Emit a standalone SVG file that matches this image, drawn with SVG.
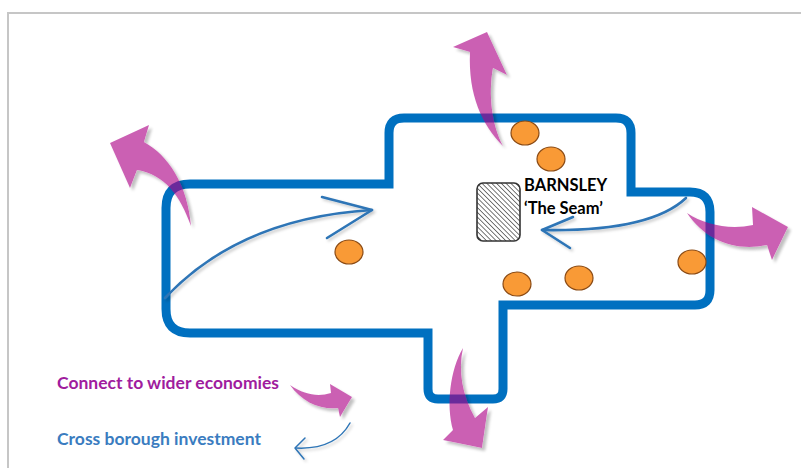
<svg xmlns="http://www.w3.org/2000/svg" width="801" height="468" viewBox="0 0 801 468">
<style>
.frame{fill:none;stroke:#c6c6c6;stroke-width:2}
.region{fill:none;stroke:#0070c0;stroke-width:9;stroke-linejoin:miter}
.site{fill:#f99a36;stroke:#8a4a14;stroke-width:1.2}
.inv{fill:none;stroke:#2e75b6;stroke-width:2.6;stroke-linecap:round;stroke-linejoin:round}
.inv-thin{fill:none;stroke:#2e75b6;stroke-width:1.5;stroke-linecap:round;stroke-linejoin:round}
.eco{fill:#ac0686;opacity:0.62}
.lbl{font-family:Lato,"Open Sans","Liberation Sans",sans-serif;font-weight:bold;font-size:16.5px}
.leg{font-family:Lato,"Open Sans","Liberation Sans",sans-serif;font-weight:bold;font-size:17.5px}
</style>
<defs>
<pattern id="hatch" patternUnits="userSpaceOnUse" width="3.4" height="3.4" patternTransform="rotate(-45)">
<rect width="3.4" height="3.4" fill="#ffffff"/>
<line x1="0" y1="0" x2="0" y2="3.4" stroke="#4a4a4a" stroke-width="1.5"/>
</pattern>
<filter id="sh" x="-20%" y="-20%" width="150%" height="150%">
<feDropShadow dx="2" dy="2" stdDeviation="1.6" flood-color="#000" flood-opacity="0.22"/>
</filter>
<filter id="shp" x="-20%" y="-20%" width="150%" height="150%">
<feGaussianBlur in="SourceAlpha" stdDeviation="1.8" result="b"/>
<feOffset in="b" dx="2.5" dy="2.5" result="o"/>
<feComposite in="o" in2="SourceAlpha" operator="out" result="s"/>
<feColorMatrix in="s" type="matrix" values="0 0 0 0 0  0 0 0 0 0  0 0 0 0 0  0 0 0 0.4 0" result="sc"/>
<feMerge><feMergeNode in="sc"/><feMergeNode in="SourceGraphic"/></feMerge>
</filter>
</defs>
<rect width="801" height="468" fill="#ffffff"/>
<path class="frame" d="M8 468 V13 H801"/>

<g id="region">
<path class="region" d="M190 184 H389 V133 Q389 118 404 118 H616 Q631 118 631 133 V192 H690 Q710 192 710 212 V290 Q710 305 695 305 H503 V389 Q503 399 493 399 H438 Q428 399 428 389 V333 H190 Q166 333 166 309 V208 Q166 184 190 184 Z"/>
</g>

<g id="sites">
<ellipse id="site1" class="site" cx="525" cy="133" rx="14" ry="12"/>
<ellipse id="site2" class="site" cx="551" cy="159" rx="14" ry="12"/>
<ellipse id="site3" class="site" cx="349" cy="252" rx="14" ry="12"/>
<ellipse id="site4" class="site" cx="517" cy="284" rx="14" ry="12"/>
<ellipse id="site5" class="site" cx="579" cy="278" rx="14" ry="12"/>
<ellipse id="site6" class="site" cx="692" cy="262" rx="14" ry="12"/>
</g>

<g id="barnsley">
<rect x="477" y="183" width="43" height="58" rx="6" fill="url(#hatch)" stroke="#333333" stroke-width="1.6"/>
<text class="lbl" x="524" y="191" fill="#000000">BARNSLEY</text>
<text class="lbl" x="524" y="214" fill="#000000">‘The Seam’</text>
</g>

<g id="legend-economies">
<text class="leg" x="57" y="389" fill="#a01c9e">Connect to wider economies</text>
</g>
<g id="legend-investment">
<text class="leg" x="57" y="445" fill="#3a7cc0">Cross borough investment</text>
</g>

<g id="connectors">
<g filter="url(#sh)">
<path class="inv" d="M165 298 Q240 218 372 210"/>
<path class="inv" d="M322 197 L372 210 L327 238"/>
<path class="inv" d="M686 198 Q650 232 542 230"/>
<path class="inv" d="M573 217 L542 230 L570 248"/>
<path class="inv-thin" d="M350 423 Q335 450 296 448"/>
<path class="inv-thin" d="M305 438 L295 448 L304 459"/>
</g>
<path class="eco" filter="url(#shp)" d="M110 143 L149 125 L144 142 C168 155 188 185 191 226 C180 195 165 175 137 170 L130 188 Z"/>
<path class="eco" filter="url(#shp)" d="M453 47 L487 32 L507 75 L493 68 C488 95 492 125 503 146 C482 125 468 95 470 52 Z"/>
<path class="eco" filter="url(#shp)" d="M687 213 C705 225 730 230 753 225 L752 207 L788 227 L772 260 L767 245 C735 252 705 240 687 213 Z"/>
<path class="eco" filter="url(#shp)" d="M463 348 C450 370 446 405 453 430 L443 440 L482 448 L488 407 L475 418 C462 395 458 370 463 348 Z"/>
<path class="eco" filter="url(#shp)" d="M290 385 C305 395 318 397 331 393 L330 384 L352 397 L340 417 L338 408 C320 410 302 402 290 385 Z"/>
</g>
</svg>
